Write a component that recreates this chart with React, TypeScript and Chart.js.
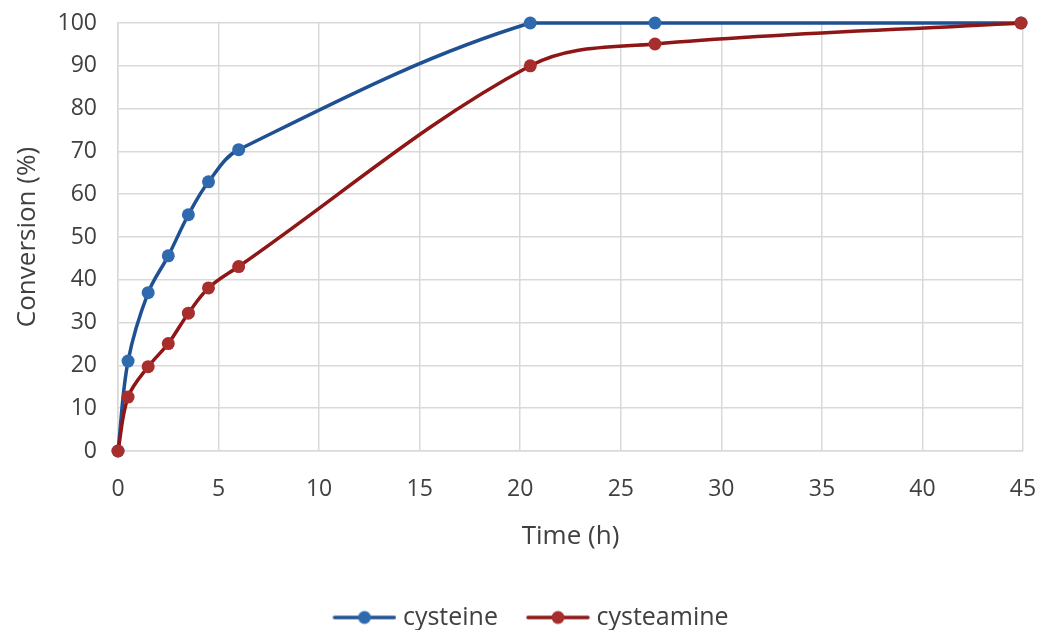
import React, { useEffect, useRef } from "react";
import { Chart, registerables } from "chart.js";

Chart.register(...registerables);

const timeCysteine = [0, 0.5, 1.5, 2.5, 3.5, 4.5, 6, 20.5, 26.7, 44.9];
const convCysteine = [0, 21, 37, 45.6, 55.2, 62.9, 70.4, 100, 100, 100];
const timeCysteamine = [0, 0.5, 1.5, 2.5, 3.5, 4.5, 6, 20.5, 26.7, 44.9];
const convCysteamine = [0, 12.6, 19.7, 25.1, 32.2, 38.1, 43.1, 90, 95.1, 100];
const seriesNames = ["cysteine", "cysteamine"];
const lineColors = ["#1f5192", "#8e1616"];
const pointColors = ["#2f6aae", "#a82d2d"];

const FONT = "'Open Sans', 'Liberation Sans', sans-serif";
const TEXT = "#404040";
const ICON_GAP = 26;
const ICON_OVER = 6;
const PAD_BOTTOM = -10;
const BOX_W = 64 + ICON_GAP - ICON_OVER;

function legendIcon(line: string, fill: string) {
  const c = document.createElement("canvas");
  const w = BOX_W + 2 * ICON_OVER;
  c.width = w;
  c.height = 16;
  const ctx = c.getContext("2d")!;
  ctx.strokeStyle = line;
  ctx.lineWidth = 3.5;
  ctx.lineCap = "round";
  ctx.beginPath();
  ctx.moveTo(w - 62, 8);
  ctx.lineTo(w - 2, 8);
  ctx.stroke();
  ctx.fillStyle = fill;
  ctx.beginPath();
  ctx.arc(w - 32, 8, 6.5, 0, Math.PI * 2);
  ctx.fill();
  return c;
}

export default function App() {
  const ref = useRef<HTMLCanvasElement>(null);
  useEffect(() => {
    const icons = [
      legendIcon(lineColors[0], pointColors[0]),
      legendIcon(lineColors[1], pointColors[1]),
    ];
    const mk = (xs: number[], ys: number[]) => xs.map((x, i) => ({ x, y: ys[i] }));
    const ds = (i: number, xs: number[], ys: number[], order: number) => ({
      label: seriesNames[i],
      data: mk(xs, ys),
      order,
      borderColor: lineColors[i],
      backgroundColor: pointColors[i],
      pointBackgroundColor: pointColors[i],
      pointBorderColor: pointColors[i],
      borderWidth: 3.5,
      pointRadius: 6.5,
      pointBorderWidth: 0,
      tension: 0.35,
      clip: false,
    });
    const chart = new Chart(ref.current!, {
      type: "line",
      data: {
        datasets: [
          ds(0, timeCysteine, convCysteine, 1),
          ds(1, timeCysteamine, convCysteamine, 0),
        ],
      },
      options: {
        animation: false,
        responsive: false,
        maintainAspectRatio: false,
        elements: { line: { capBezierPoints: true } },
        layout: { padding: { left: 12, right: 27, top: 23, bottom: PAD_BOTTOM } },
        plugins: {
          tooltip: { enabled: false },
          legend: {
            position: "bottom",
            labels: {
              usePointStyle: true,
              pointStyleWidth: BOX_W,
              boxHeight: 16,
              font: { family: FONT, size: 25 },
              color: TEXT,
              padding: 2,
              sort: (a: any, b: any) => a.datasetIndex - b.datasetIndex,
              generateLabels: (ch: any) =>
                ch.data.datasets.map((d: any, i: number) => ({
                  text: d.label,
                  pointStyle: icons[i],
                  fillStyle: pointColors[i],
                  strokeStyle: lineColors[i],
                  lineWidth: 0,
                  datasetIndex: i,
                  fontColor: TEXT,
                  hidden: false,
                })),
            },
          },
        },
        scales: {
          x: {
            type: "linear",
            min: 0,
            max: 45,
            afterFit: (s: any) => {
              s.height = 630 - PAD_BOTTOM - 451 - s.chart.legend.height;
            },
            ticks: { stepSize: 5, font: { family: FONT, size: 23 }, color: TEXT, padding: 2 },
            grid: {
              color: "#d9d9d9",
              lineWidth: 1.5,
              drawTicks: true,
              tickLength: 23,
              tickColor: "rgba(0,0,0,0)",
            },
            border: { color: "#d9d9d9", width: 1.5 },
            title: {
              display: true,
              text: "Time (h)",
              font: { family: FONT, size: 26 },
              color: TEXT,
              padding: { top: 10, bottom: 51 },
            },
          },
          y: {
            min: 0,
            max: 100,
            afterFit: (s: any) => {
              s.width = 118 - 12;
            },
            ticks: { stepSize: 10, font: { family: FONT, size: 23 }, color: TEXT, padding: 2 },
            grid: {
              color: "#d9d9d9",
              lineWidth: 1.5,
              drawTicks: true,
              tickLength: 19,
              tickColor: "rgba(0,0,0,0)",
            },
            border: { color: "#d9d9d9", width: 1.5 },
            title: {
              display: true,
              text: "Conversion (%)",
              font: { family: FONT, size: 26 },
              color: TEXT,
              padding: { top: 0, bottom: 0 },
            },
          },
        },
      },
    } as any);
    return () => chart.destroy();
  }, []);
  return (
    <div style={{ position: "fixed", left: 0, top: 0, width: 1050, height: 630, background: "#fff" }}>
      <canvas ref={ref} width={1050} height={630} />
    </div>
  );
}
